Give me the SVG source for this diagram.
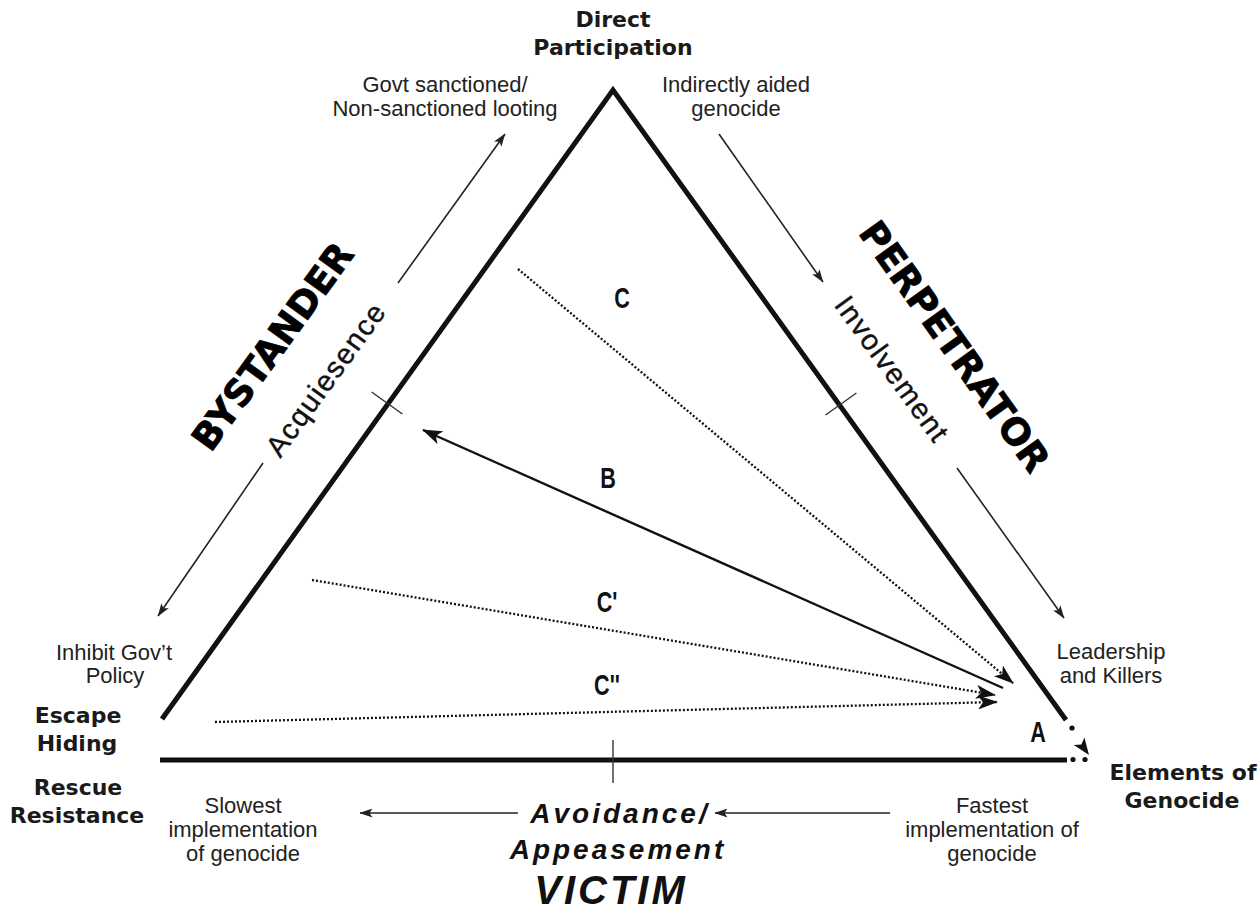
<svg xmlns="http://www.w3.org/2000/svg" width="1260" height="918" viewBox="0 0 1260 918">
<style>
.thick{stroke:#111;stroke-width:5;fill:none;stroke-linejoin:miter}
.thin{stroke:#222;stroke-width:1.6;fill:none}
.solid{stroke:#111;stroke-width:2.4;fill:none}
.dot{stroke:#111;stroke-width:2.3;stroke-dasharray:2 2;fill:none}
.tick{stroke:#333;stroke-width:1.4;fill:none}
.reg{font-family:"Liberation Sans",Arial,sans-serif;font-size:22px;fill:#222;text-anchor:middle}
.bold{font-family:"DejaVu Sans",Verdana,sans-serif;font-weight:bold;font-size:22px;fill:#1a1a1a;text-anchor:middle}
.big{font-family:"DejaVu Sans",Verdana,sans-serif;font-weight:bold;font-size:37px;fill:#000;stroke:#000;stroke-width:0.8;text-anchor:middle}
.side{font-family:"Liberation Sans",Arial,sans-serif;font-size:29px;fill:#111;stroke:#111;stroke-width:0.4;letter-spacing:1.5px;text-anchor:middle}
.bi{font-family:"Liberation Sans",Arial,sans-serif;font-weight:bold;font-style:italic;fill:#111;text-anchor:middle}
.lab{font-family:"Liberation Sans",Arial,sans-serif;font-weight:bold;font-size:30px;fill:#111;text-anchor:middle}
</style>
<defs>
<marker id="ah" markerUnits="userSpaceOnUse" markerWidth="20" markerHeight="14" viewBox="0 0 20 14" refX="19" refY="7" orient="auto"><path d="M0,0 L20,7 L0,14 L5,7 z" fill="#111" stroke="none"/></marker>
<marker id="sm" markerUnits="userSpaceOnUse" markerWidth="13" markerHeight="9" viewBox="0 0 13 9" refX="12.5" refY="4.5" orient="auto"><path d="M0,0 L13,4.5 L0,9 L3,4.5 z" fill="#222" stroke="none"/></marker>
</defs>

<g id="connectors">
  <path class="thick" d="M162,719 L613,90 L1066,720"/>
  <path class="thick" d="M160,760 H1067"/>
  <circle cx="1073" cy="759.5" r="2.6" fill="#111"/>
  <circle cx="1085" cy="759.5" r="2.6" fill="#111"/>
  <circle cx="1072" cy="728" r="2.6" fill="#111"/>
  <polygon points="1089,755 1084.4,737.4 1081.4,744.4 1073.8,745" fill="#111"/>
  <line class="tick" x1="371.6" y1="392" x2="402.4" y2="414"/>
  <line class="tick" x1="825.6" y1="415" x2="856.4" y2="393"/>
  <line class="tick" x1="613" y1="740" x2="613" y2="783"/>
  <line class="dot" x1="518" y1="269" x2="1013" y2="683" marker-end="url(#ah)"/>
  <line class="solid" x1="1003" y1="688" x2="423" y2="430" marker-end="url(#ah)"/>
  <line class="dot" x1="312" y1="580" x2="995" y2="695" marker-end="url(#ah)"/>
  <line class="dot" x1="215" y1="722" x2="997" y2="702" marker-end="url(#ah)"/>
  <line class="thin" x1="398" y1="283" x2="505" y2="134" marker-end="url(#sm)"/>
  <line class="thin" x1="719" y1="134" x2="823" y2="282" marker-end="url(#sm)"/>
  <line class="thin" x1="957" y1="468" x2="1064" y2="618" marker-end="url(#sm)"/>
  <line class="thin" x1="263" y1="463" x2="158" y2="616" marker-end="url(#sm)"/>
  <line class="thin" x1="518" y1="813" x2="360" y2="813" marker-end="url(#sm)"/>
  <line class="thin" x1="890" y1="813" x2="715" y2="813" marker-end="url(#sm)"/>
</g>

<g id="direct-participation"><text class="bold" x="613" y="27">Direct</text><text class="bold" x="613" y="55">Participation</text></g>
<g id="looting"><text class="reg" x="445" y="92">Govt sanctioned/</text><text class="reg" x="445" y="116">Non-sanctioned looting</text></g>
<g id="indirectly-aided"><text class="reg" x="736" y="92">Indirectly aided</text><text class="reg" x="736" y="116">genocide</text></g>
<g id="bystander"><text class="big" font-size="36" transform="translate(283,354) rotate(-54)">BYSTANDER</text></g>
<g id="acquiesence"><text class="side" transform="translate(334,385) rotate(-54)">Acquiesence</text></g>
<g id="perpetrator"><text class="big" transform="translate(944,354) rotate(54.5)">PERPETRATOR</text></g>
<g id="involvement"><text class="side" transform="translate(884,375) rotate(54)">Involvement</text></g>
<g id="inhibit"><text class="reg" x="114" y="660">Inhibit Gov’t</text><text class="reg" x="115" y="683">Policy</text></g>
<g id="leadership"><text class="reg" x="1111" y="659">Leadership</text><text class="reg" x="1111" y="683">and Killers</text></g>
<g id="escape"><text class="bold" x="78" y="723">Escape</text><text class="bold" x="77" y="751">Hiding</text></g>
<g id="rescue"><text class="bold" x="78" y="795">Rescue</text><text class="bold" x="77" y="823">Resistance</text></g>
<g id="elements"><text class="bold" x="1183" y="780">Elements of</text><text class="bold" x="1182" y="808">Genocide</text></g>
<g id="slowest"><text class="reg" x="243" y="813">Slowest</text><text class="reg" x="243" y="837">implementation</text><text class="reg" x="243" y="861">of genocide</text></g>
<g id="fastest"><text class="reg" x="992" y="813">Fastest</text><text class="reg" x="992" y="837">implementation of</text><text class="reg" x="992" y="861">genocide</text></g>
<g id="avoidance"><text class="bi" font-size="28" letter-spacing="3" x="620" y="823">Avoidance/</text><text class="bi" font-size="28" letter-spacing="3" x="618" y="859">Appeasement</text></g>
<g id="victim"><text class="bi" font-size="40" letter-spacing="3" x="611" y="904">VICTIM</text></g>
<g id="label-C"><text class="lab" transform="translate(622,308) scale(0.72,1)">C</text></g>
<g id="label-B"><text class="lab" font-size="32" transform="translate(608,488) scale(0.72,1)">B</text></g>
<g id="label-C1"><text class="lab" transform="translate(607,612) scale(0.72,1)">C'</text></g>
<g id="label-C2"><text class="lab" transform="translate(607,695) scale(0.72,1)">C''</text></g>
<g id="label-A"><text class="lab" transform="translate(1038,742) scale(0.72,1)">A</text></g>
</svg>
